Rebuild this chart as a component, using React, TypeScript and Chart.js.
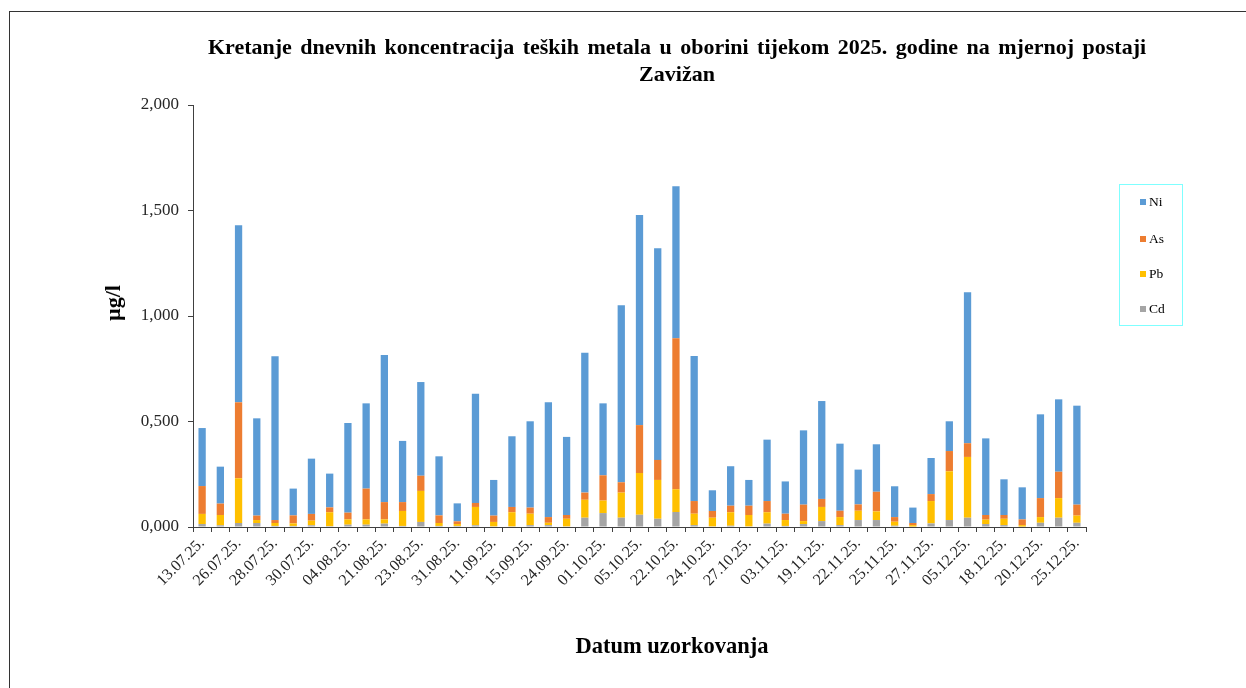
import React, { useEffect, useRef } from "react";
import { Chart, registerables } from "chart.js";

Chart.register(...registerables);

const labels: string[] = [
  "13.07.25.", "", "26.07.25.", "", "28.07.25.", "", "30.07.25.", "", "04.08.25.", "",
  "21.08.25.", "", "23.08.25.", "", "31.08.25.", "", "11.09.25.", "", "15.09.25.", "",
  "24.09.25.", "", "01.10.25.", "", "05.10.25.", "", "22.10.25.", "", "24.10.25.", "",
  "27.10.25.", "", "03.11.25.", "", "19.11.25.", "", "22.11.25.", "", "25.11.25.", "",
  "27.11.25.", "", "05.12.25.", "", "18.12.25.", "", "20.12.25.", "", "25.12.25.",
];

const cd: number[] = [
  0.014, 0.008, 0.019, 0.019, 0.005, 0.005, 0.008, 0.004, 0.011, 0.011, 0.016, 0.005, 0.024, 0.005, 0.005,
  0.008, 0.003, 0.003, 0.009, 0.009, 0.003, 0.044, 0.066, 0.044, 0.058, 0.039, 0.071, 0.009, 0.003, 0.006, 0.003, 0.016,
  0.005, 0.014, 0.028, 0.009, 0.033, 0.033, 0.006, 0.002, 0.017, 0.033, 0.044, 0.014, 0.009, 0.002, 0.02, 0.044, 0.02,
];
const pb: number[] = [
  0.048, 0.049, 0.212, 0.014, 0.014, 0.012, 0.022, 0.066, 0.025, 0.025, 0.02, 0.071, 0.147, 0.014, 0.009,
  0.087, 0.021, 0.067, 0.054, 0.011, 0.036, 0.085, 0.059, 0.119, 0.198, 0.184, 0.108, 0.054, 0.041, 0.064, 0.054, 0.054,
  0.028, 0.014, 0.067, 0.038, 0.044, 0.041, 0.019, 0.007, 0.106, 0.231, 0.288, 0.021, 0.03, 0.007, 0.027, 0.093, 0.034,
];
const as: number[] = [
  0.132, 0.054, 0.36, 0.021, 0.014, 0.038, 0.032, 0.023, 0.032, 0.146, 0.082, 0.042, 0.072, 0.036, 0.013,
  0.019, 0.03, 0.025, 0.029, 0.027, 0.018, 0.034, 0.12, 0.049, 0.227, 0.095, 0.715, 0.06, 0.032, 0.031, 0.044, 0.053,
  0.03, 0.078, 0.038, 0.03, 0.03, 0.093, 0.022, 0.01, 0.033, 0.096, 0.065, 0.022, 0.018, 0.027, 0.09, 0.125, 0.052,
];
const ni: number[] = [
  0.275, 0.175, 0.839, 0.461, 0.776, 0.127, 0.262, 0.16, 0.425, 0.404, 0.697, 0.29, 0.444, 0.28, 0.085,
  0.518, 0.169, 0.335, 0.409, 0.544, 0.37, 0.663, 0.341, 0.839, 0.996, 1.003, 0.721, 0.687, 0.098, 0.187, 0.122, 0.291,
  0.153, 0.352, 0.464, 0.318, 0.165, 0.225, 0.146, 0.073, 0.171, 0.141, 0.715, 0.363, 0.169, 0.152, 0.397, 0.343, 0.469,
];

const yTicks: number[] = [0, 0.5, 1, 1.5, 2];

const title1 = "Kretanje dnevnih koncentracija teških metala u oborini tijekom 2025. godine na mjernoj postaji";
const title2 = "Zavižan";
const yTitle = "µg/l";
const xTitle = "Datum uzorkovanja";

const series = [
  { name: "Ni", color: "#5B9BD5" },
  { name: "As", color: "#ED7D31" },
  { name: "Pb", color: "#FFC000" },
  { name: "Cd", color: "#A5A5A5" },
];

const SERIF = "'Liberation Serif', 'Times New Roman', serif";

export default function App() {
  const ref = useRef<HTMLCanvasElement | null>(null);

  useEffect(() => {
    if (!ref.current) return;
    const chart = new Chart(ref.current, {
      type: "bar",
      data: {
        labels,
        datasets: [
          { label: "Cd", data: cd, backgroundColor: "#A5A5A5" },
          { label: "Pb", data: pb, backgroundColor: "#FFC000" },
          { label: "As", data: as, backgroundColor: "#ED7D31" },
          { label: "Ni", data: ni, backgroundColor: "#5B9BD5" },
        ],
      },
      options: {
        animation: false,
        responsive: false,
        devicePixelRatio: 1,
        layout: { padding: { left: 0, top: 105, right: 160, bottom: 0 } },
        datasets: { bar: { barPercentage: 0.4, categoryPercentage: 1 } },
        plugins: { legend: { display: false }, tooltip: { enabled: false }, title: { display: false } },
        scales: {
          x: {
            stacked: true,
            afterFit: (s: any) => { s.height = 161; },
            grid: { drawOnChartArea: false, drawTicks: true, tickLength: 5, color: "#404040", offset: true },
            border: { display: true, color: "#404040", width: 1 },
            ticks: {
              autoSkip: false,
              minRotation: 45,
              maxRotation: 45,
              color: "#262626",
              padding: 2,
              font: { family: SERIF, size: 16 },
            },
          },
          y: {
            stacked: true,
            min: 0,
            max: 2,
            afterFit: (s: any) => { s.width = 193; },
            afterBuildTicks: (s: any) => { s.ticks = yTicks.map((v) => ({ value: v })); },
            grid: { drawOnChartArea: false, drawTicks: true, tickLength: 5, color: "#404040" },
            border: { display: true, color: "#404040", width: 1 },
            ticks: {
              color: "#262626",
              padding: 9,
              font: { family: SERIF, size: 17 },
              callback: (v: any) => Number(v).toFixed(3).replace(".", ","),
            },
          },
        },
      },
    });
    return () => chart.destroy();
  }, []);

  return (
    <div style={{ position: "fixed", left: 0, top: 0, width: 1246, height: 688, background: "#fff", overflow: "hidden" }}>
      <div style={{ position: "absolute", left: 9, top: 11, width: 1400, height: 1000, border: "1px solid #333" }} />
      <canvas ref={ref} width={1246} height={688} style={{ position: "absolute", left: 0, top: 0 }} />
      <div
        style={{
          position: "absolute", left: 100, top: 33, width: 1154, textAlign: "center",
          fontFamily: SERIF, fontWeight: "bold", fontSize: 22, lineHeight: "27px", color: "#000", wordSpacing: 3,
        }}
      >
        <div>{title1}</div>
        <div>{title2}</div>
      </div>
      <div
        style={{
          position: "absolute", left: 113, top: 303, transform: "translate(-50%, -50%) rotate(-90deg)",
          fontFamily: SERIF, fontWeight: "bold", fontSize: 22, color: "#000", whiteSpace: "nowrap",
        }}
      >
        {yTitle}
      </div>
      <div
        style={{
          position: "absolute", left: 672, top: 646, transform: "translate(-50%, -50%)",
          fontFamily: SERIF, fontWeight: "bold", fontSize: 22.5, color: "#000", whiteSpace: "nowrap",
        }}
      >
        {xTitle}
      </div>
      <div
        style={{
          position: "absolute", left: 1119, top: 184, width: 62, height: 140,
          border: "1px solid #7FFFFF", fontFamily: SERIF, fontSize: 13.5, color: "#000",
        }}
      >
        {series.map((s, i) => (
          <div
            key={s.name}
            style={{ position: "absolute", left: 20, top: [10, 47, 82, 117][i], height: 14, display: "flex", alignItems: "center", whiteSpace: "nowrap" }}
          >
            <span style={{ display: "inline-block", width: 6, height: 6, background: s.color, marginRight: 3 }} />
            <span>{s.name}</span>
          </div>
        ))}
      </div>
    </div>
  );
}
